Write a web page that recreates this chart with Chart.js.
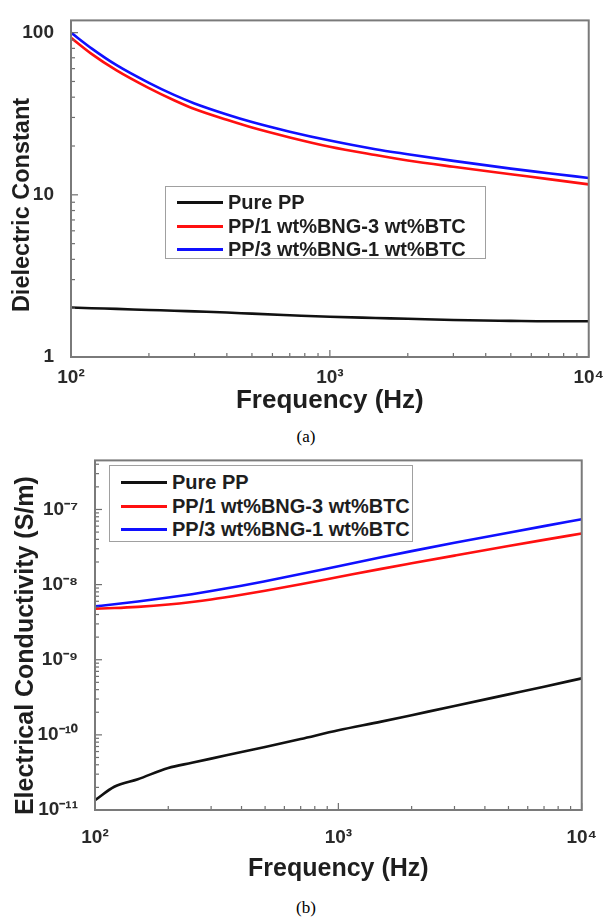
<!DOCTYPE html>
<html>
<head>
<meta charset="utf-8">
<script src="https://cdn.jsdelivr.net/npm/chart.js@4.4.1/dist/chart.umd.min.js"></script>
<style>
  body { margin: 0; background: #fff; width: 605px; height: 918px; position: relative; overflow: hidden;
         font-family: "Liberation Sans", Arial, sans-serif; }
  .panel { position: absolute; left: 0; width: 605px; }
  #panelA { top: 0; height: 425px; }
  #panelB { top: 440px; height: 455px; }
  .legend { position: absolute; border: 1px solid #a0a0a0; background: #fff; box-sizing: border-box; }
  #legendA { left: 165px; top: 186px; width: 321px; height: 73px; padding: 4px 0 0 11px; }
  #legendB { left: 109px; top: 25px; width: 304px; height: 77px; padding: 5px 0 0 11px; }
  .legend .row { display: flex; align-items: center; height: 23.5px; font-weight: bold; font-size: 20px; color: #1e1e1e; white-space: nowrap; }
  .legend .swatch { display: inline-block; width: 46px; height: 3px; margin-right: 5px; }
  .caption { position: absolute; left: 286px; width: 40px; text-align: center; font-family: "Liberation Serif", "Times New Roman", serif; font-size: 17px; color: #000; }
</style>
</head>
<body>
<div class="panel" id="panelA">
  <canvas id="chartA" width="605" height="425"></canvas>
  <div class="legend" id="legendA"></div>
</div>
<div class="caption" style="top:427px">(a)</div>
<div class="panel" id="panelB">
  <canvas id="chartB" width="605" height="455"></canvas>
  <div class="legend" id="legendB"></div>
</div>
<div class="caption" style="top:898px">(b)</div>

<script>
// frequency points (Hz)
const freq = [100, 120, 150, 200, 250, 300, 400, 500, 700, 1000, 1500, 2000, 3000, 5000, 7000, 10000];

const seriesNames = ["Pure PP", "PP/1 wt%BNG-3 wt%BTC", "PP/3 wt%BNG-1 wt%BTC"];
const seriesColors = ["#111111", "#ff1010", "#1010ff"];

// (a) dielectric constant
const dielPurePP = [2.02, 2.00, 1.98, 1.95, 1.93, 1.91, 1.88, 1.85, 1.81, 1.77, 1.74, 1.72, 1.69, 1.67, 1.66, 1.66];
const dielBNG1 = [93, 74, 58.5, 45.5, 38.3, 33.8, 29, 26, 22.6, 19.8, 17.6, 16.3, 14.9, 13.4, 12.5, 11.6];
const dielBNG3 = [100, 80, 63, 49, 41.3, 36.6, 31.3, 28.1, 24.5, 21.6, 19.1, 17.8, 16.2, 14.5, 13.6, 12.7];

// (b) electrical conductivity (S/m)
const condPurePP = [1.35e-11, 2.04e-11, 2.57e-11, 3.63e-11, 4.25e-11, 4.83e-11, 5.9e-11, 6.9e-11, 8.8e-11, 1.15e-10, 1.5e-10, 1.83e-10, 2.42e-10, 3.46e-10, 4.38e-10, 5.65e-10];
const condBNG1 = [4.79e-9, 4.88e-9, 5.06e-9, 5.43e-9, 5.86e-9, 6.32e-9, 7.31e-9, 8.28e-9, 1.01e-8, 1.26e-8, 1.62e-8, 1.92e-8, 2.43e-8, 3.26e-8, 3.94e-8, 4.79e-8];
const condBNG3 = [5.13e-9, 5.47e-9, 5.96e-9, 6.72e-9, 7.46e-9, 8.2e-9, 9.66e-9, 1.11e-8, 1.38e-8, 1.76e-8, 2.31e-8, 2.79e-8, 3.6e-8, 4.91e-8, 6.0e-8, 7.4e-8];

const SUP = { "-": "\u207B", "0": "\u2070", "1": "\u00B9", "2": "\u00B2", "3": "\u00B3", "4": "\u2074",
              "5": "\u2075", "6": "\u2076", "7": "\u2077", "8": "\u2078", "9": "\u2079" };

function decade(v) {
  const e = Math.log10(v);
  return Math.abs(e - Math.round(e)) < 1e-6 ? Math.round(e) : null;
}
function powLabel(v) {
  const e = decade(v);
  if (e === null) return "";
  return "10" + String(e).split("").map(c => SUP[c]).join("");
}
function plainLabel(v) {
  return decade(v) === null ? "" : String(v);
}

// frame around the plot plus inward tick marks on the left/bottom axes
const framePlugin = {
  id: "frame",
  afterDatasetsDraw(chart) {
    const { ctx, chartArea: a, scales } = chart;
    ctx.save();
    ctx.strokeStyle = "#6f6f6f";
    ctx.lineWidth = 1.2;
    const tickKind = v => {
      const m = v / Math.pow(10, Math.floor(Math.log10(v) + 1e-9));
      if (Math.abs(m - 1) < 1e-6) return 2;
      return Math.abs(m - Math.round(m)) < 1e-6 ? 1 : 0;
    };
    scales.x.ticks.forEach(t => {
      const k = tickKind(t.value);
      if (!k) return;
      const px = scales.x.getPixelForValue(t.value);
      ctx.beginPath();
      ctx.moveTo(px, a.bottom);
      ctx.lineTo(px, a.bottom - (k === 2 ? 7 : 4));
      ctx.stroke();
    });
    scales.y.ticks.forEach(t => {
      const k = tickKind(t.value);
      if (!k) return;
      const py = scales.y.getPixelForValue(t.value);
      ctx.beginPath();
      ctx.moveTo(a.left, py);
      ctx.lineTo(a.left + (k === 2 ? 7 : 4), py);
      ctx.stroke();
    });
    ctx.lineWidth = 2;
    ctx.strokeStyle = "#7a7a7a";
    ctx.strokeRect(a.left, a.top, a.right - a.left, a.bottom - a.top);
    ctx.restore();
  }
};

function makeDatasets(values) {
  return values.map((vals, i) => ({
    label: seriesNames[i],
    data: freq.map((f, j) => ({ x: f, y: vals[j] })),
    borderColor: seriesColors[i],
    borderWidth: 2.6,
    pointRadius: 0,
    fill: false,
    cubicInterpolationMode: "monotone"
  }));
}

function buildLegend(el, chart) {
  chart.data.datasets.forEach(ds => {
    const row = document.createElement("div");
    row.className = "row";
    const sw = document.createElement("span");
    sw.className = "swatch";
    sw.style.background = ds.borderColor;
    row.appendChild(sw);
    row.appendChild(document.createTextNode(ds.label));
    el.appendChild(row);
  });
}

const FONT = "Liberation Sans, Arial, sans-serif";

function makeChart(canvasId, opts) {
  return new Chart(document.getElementById(canvasId), {
    type: "line",
    data: { datasets: makeDatasets(opts.values) },
    plugins: [framePlugin],
    options: {
      responsive: false,
      animation: false,
      layout: { padding: { top: opts.top, right: opts.right, left: 0, bottom: 0 } },
      plugins: { legend: { display: false }, tooltip: { enabled: false } },
      scales: {
        x: {
          type: "logarithmic",
          min: 100, max: 10000,
          afterFit: s => { s.height = opts.xHeight; },
          grid: { display: false },
          border: { display: false },
          ticks: {
            autoSkip: false, maxRotation: 0, padding: opts.xPad,
            color: "#2a2a2a", font: { family: FONT, size: 19, weight: "bold" },
            callback: v => powLabel(v)
          },
          title: {
            display: true, text: "Frequency (Hz)", color: "#1e1e1e",
            font: { family: FONT, size: opts.xTitleSize, weight: "bold" },
            padding: { top: 0, bottom: opts.xTitlePad }
          }
        },
        y: {
          type: "logarithmic",
          min: opts.yMin, max: opts.yMax,
          afterFit: s => { s.width = opts.yWidth; },
          grid: { display: false },
          border: { display: false },
          ticks: {
            autoSkip: false, padding: 9,
            color: "#2a2a2a", font: { family: FONT, size: 19, weight: "bold" },
            callback: opts.yLabel
          },
          title: {
            display: true, text: opts.yTitle, color: "#1e1e1e",
            font: { family: FONT, size: opts.yTitleSize, weight: "bold" },
            padding: { top: opts.yTitlePad, bottom: 0 }
          }
        }
      }
    }
  });
}

const chartA = makeChart("chartA", {
  values: [dielPurePP, dielBNG1, dielBNG3],
  top: 14, right: 15, xHeight: 68, yWidth: 71, xPad: 1, xTitlePad: 9, yTitlePad: 8,
  xTitleSize: 26, yTitleSize: 23.5,
  yMin: 1, yMax: 119, yLabel: v => plainLabel(v),
  yTitle: "Dielectric Constant     "
});
buildLegend(document.getElementById("legendA"), chartA);

const chartB = makeChart("chartB", {
  values: [condPurePP, condBNG1, condBNG3],
  top: 15, right: 18, xHeight: 85, yWidth: 95, xPad: 8, xTitlePad: 11, yTitlePad: 11,
  xTitleSize: 25, yTitleSize: 25,
  yMin: 1e-11, yMax: 4.5e-7, yLabel: v => powLabel(v),
  yTitle: "Electrical Conductivity (S/m)   "
});
buildLegend(document.getElementById("legendB"), chartB);
</script>
</body>
</html>
